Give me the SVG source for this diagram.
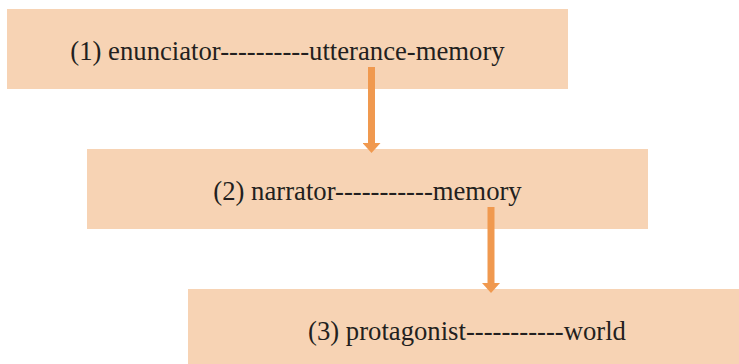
<svg xmlns="http://www.w3.org/2000/svg" width="739" height="364" viewBox="0 0 739 364">
<style>
.box{fill:#F7D3B4;}
.lbl{font-family:"Liberation Serif","Times New Roman",serif;font-size:26.7px;fill:#231F20;text-anchor:middle;}
.arr{stroke:#F0994F;stroke-width:7;fill:none;}
</style>
<defs>
<marker id="ah" markerUnits="userSpaceOnUse" markerWidth="10" markerHeight="18" refX="0" refY="9" orient="auto" viewBox="0 0 10 18">
<path d="M0,0 L10,9 L0,18 Z" fill="#F0994F"/>
</marker>
</defs>
<rect width="739" height="364" fill="#FFFFFF"/>
<g id="node1">
<rect class="box" x="7" y="9" width="561" height="80"/>
<text class="lbl" x="287.5" y="60">(1) enunciator----------utterance-memory</text>
</g>
<g id="node2">
<rect class="box" x="87" y="149" width="561" height="80"/>
<text class="lbl" x="367.5" y="200">(2) narrator-----------memory</text>
</g>
<g id="node3">
<rect class="box" x="188" y="289" width="555" height="80"/>
<text class="lbl" x="467" y="340">(3) protagonist-----------world</text>
</g>
<g id="connectors">
<line class="arr" x1="371.5" y1="67" x2="371.5" y2="143" marker-end="url(#ah)"/>
<line class="arr" x1="491" y1="207" x2="491" y2="283" marker-end="url(#ah)"/>
</g>
</svg>
